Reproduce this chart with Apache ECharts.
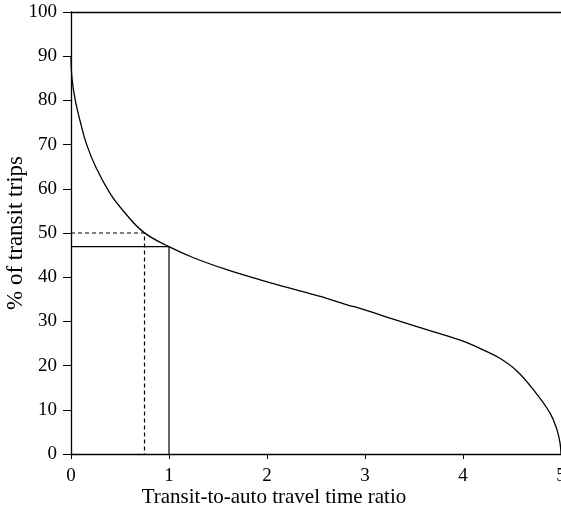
<!DOCTYPE html>
<html>
<head>
<meta charset="utf-8">
<script src="https://cdn.jsdelivr.net/npm/echarts@6/dist/echarts.min.js"></script>
<style>
  html, body { margin: 0; padding: 0; background: #fff; }
  #chart { width: 561px; height: 512px; }
</style>
</head>
<body>
<div id="chart"></div>
<script>
// share of transit trips vs transit-to-auto travel time ratio
const ratio = [0, 0.01, 0.044, 0.10, 0.16, 0.255, 0.40, 0.53, 0.74, 1.0, 1.25, 1.59, 1.93, 2.27, 2.61, 2.85, 2.9, 3.19, 3.53, 3.87, 4.04, 4.21, 4.38, 4.55, 4.72, 4.89, 4.96, 4.99, 5.0];
const share = [90, 85, 80, 74.7, 70, 64.8, 58.9, 55.1, 50.2, 46.9, 44.4, 41.7, 39.4, 37.3, 35.2, 33.5, 33.3, 31.2, 28.8, 26.5, 25.2, 23.5, 21.6, 18.8, 14.5, 9.2, 5.4, 2.5, 0];

// guide lines: median (50%) and ratio = 1
const medianGuide = [[0, 50], [0.75, 50], [0.75, 0]];
const unitGuide = [[0, 46.9], [1, 46.9], [1, 0]];

const xTicks = [0, 1, 2, 3, 4, 5];
const yTicks = [0, 10, 20, 30, 40, 50, 60, 70, 80, 90, 100];

const font = '"Liberation Serif", "Times New Roman", serif';
const black = '#000';

const chart = echarts.init(document.getElementById('chart'));

chart.setOption({
  animation: false,
  backgroundColor: '#fff',
  textStyle: { fontFamily: font, color: black },
  grid: { left: 71, right: 0, top: 12, bottom: 58, outerBoundsMode: 'none', containLabel: false },
  xAxis: [
    {
      type: 'value',
      min: xTicks[0],
      max: xTicks[xTicks.length - 1],
      interval: 1,
      name: 'Transit-to-auto travel time ratio',
      nameLocation: 'middle',
      nameGap: 33,
      nameMoveOverlap: false,
      nameTextStyle: { fontFamily: font, fontSize: 21, color: black, padding: [0, 84, 0, 0] },
      axisLine: { show: true, lineStyle: { color: black, width: 1.3 } },
      axisTick: { show: true, length: 5, lineStyle: { color: black, width: 1 } },
      axisLabel: { fontFamily: font, fontSize: 19, color: black, margin: 13 },
      splitLine: { show: false }
    },
    {
      type: 'value',
      position: 'top',
      min: xTicks[0],
      max: xTicks[xTicks.length - 1],
      axisLine: { show: true, lineStyle: { color: black, width: 1.3 } },
      axisTick: { show: false },
      axisLabel: { show: false },
      splitLine: { show: false }
    }
  ],
  yAxis: {
    type: 'value',
    min: yTicks[0],
    max: yTicks[yTicks.length - 1],
    interval: 10,
    name: '% of transit trips',
    nameLocation: 'middle',
    nameGap: 44,
    nameRotate: 90,
    nameMoveOverlap: false,
    nameTextStyle: { fontFamily: font, fontSize: 23, color: black },
    axisLine: { show: true, lineStyle: { color: black, width: 1.3 } },
    axisTick: { show: true, length: 8, lineStyle: { color: black, width: 1 } },
    axisLabel: { fontFamily: font, fontSize: 19, color: black, margin: 14 },
    splitLine: { show: false }
  },
  series: [
    {
      type: 'line',
      data: ratio.map((x, i) => [x, share[i]]),
      smooth: 0.4,
      showSymbol: false,
      lineStyle: { color: black, width: 1.3 }
    },
    {
      type: 'line',
      data: medianGuide,
      showSymbol: false,
      lineStyle: { color: black, width: 1.2, type: [4, 3] }
    },
    {
      type: 'line',
      data: unitGuide,
      showSymbol: false,
      lineStyle: { color: black, width: 1.2 }
    }
  ]
});
</script>
</body>
</html>
